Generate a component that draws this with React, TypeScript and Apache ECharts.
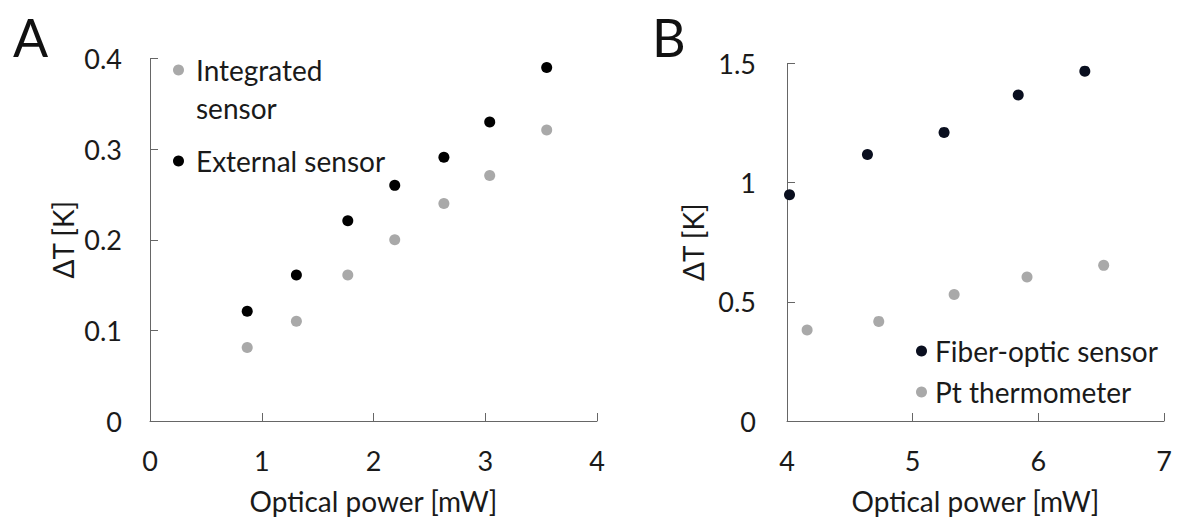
import React, { useEffect, useRef } from "react";
import * as echarts from "echarts";

// Panel A data
const powerA = [0.87, 1.31, 1.77, 2.19, 2.63, 3.04, 3.55];
const integratedSensor = [0.081, 0.11, 0.161, 0.2, 0.24, 0.271, 0.321];
const externalSensor = [0.121, 0.161, 0.221, 0.26, 0.291, 0.33, 0.39];

// Panel B data
const powerBFiber = [4.02, 4.64, 5.25, 5.84, 6.37];
const fiberOptic = [0.949, 1.118, 1.211, 1.368, 1.468];
const powerBPt = [4.16, 4.73, 5.33, 5.91, 6.52];
const ptThermometer = [0.382, 0.418, 0.531, 0.604, 0.653];

const xTicksA = [0, 4, 1];
const yTicksA = [0, 0.4, 0.1];
const xTicksB = [4, 7, 1];
const yTicksB = [0, 1.5, 0.5];

const FONT = "Lato";
const TEXT = "#1a1a1a";
const AXIS = "#666666";
const GRAY = "#a9a9a9";
const BLACK = "#000000";
const NAVY = "#0a0f1f";
const TICK_FS = 27;
const NAME_FS = 28;

const zip = (xs: number[], ys: number[]) => xs.map((x, i) => [x, ys[i]]);

export default function App() {
  const ref = useRef<HTMLDivElement>(null);
  useEffect(() => {
    if (!ref.current) return;
    const chart = echarts.init(ref.current, undefined, { renderer: "svg" });
    const axisCommon = {
      axisLine: { show: true, lineStyle: { color: AXIS, width: 1 } },
      axisTick: { show: true, inside: true, length: 8, lineStyle: { color: AXIS } },
      splitLine: { show: false },
      axisLabel: { color: TEXT, fontFamily: FONT, fontSize: TICK_FS },
      nameTextStyle: { color: TEXT, fontFamily: FONT, fontSize: NAME_FS },
      nameLocation: "middle" as const,
    };
    chart.setOption({
      animation: false,
      backgroundColor: "#ffffff",
      textStyle: { fontFamily: FONT },
      title: [
        { text: "A", left: 8, top: 6, textStyle: { fontFamily: FONT, fontSize: 52, fontWeight: "normal", color: "#111" } },
        { text: "B", left: 647, top: 6, textStyle: { fontFamily: FONT, fontSize: 52, fontWeight: "normal", color: "#111" } },
      ],
      grid: [
        { left: 150, top: 58.5, width: 447, height: 362.5 },
        { left: 787, top: 63.5, width: 377, height: 357.5 },
      ],
      xAxis: [
        {
          ...axisCommon, gridIndex: 0, type: "value", min: xTicksA[0], max: xTicksA[1], interval: xTicksA[2],
          name: "Optical power [mW]", nameGap: 66,
          axisLabel: { ...axisCommon.axisLabel, margin: 26 },
        },
        {
          ...axisCommon, gridIndex: 1, type: "value", min: xTicksB[0], max: xTicksB[1], interval: xTicksB[2],
          name: "Optical power [mW]", nameGap: 66,
          axisLabel: { ...axisCommon.axisLabel, margin: 26 },
        },
      ],
      yAxis: [
        {
          ...axisCommon, gridIndex: 0, type: "value", min: yTicksA[0], max: yTicksA[1], interval: yTicksA[2],
          name: "ΔT [K]", nameGap: 73,
          axisLabel: { ...axisCommon.axisLabel, margin: 28 },
        },
        {
          ...axisCommon, gridIndex: 1, type: "value", min: yTicksB[0], max: yTicksB[1], interval: yTicksB[2],
          name: "ΔT [K]", nameGap: 80,
          axisLabel: { ...axisCommon.axisLabel, margin: 31 },
        },
      ],
      legend: [
        {
          data: ["Fiber-optic sensor", "Pt thermometer"],
          orient: "vertical",
          left: 911,
          top: 332,
          itemWidth: 11,
          itemHeight: 11,
          itemGap: 13,
          icon: "circle",
          textStyle: { color: TEXT, fontFamily: FONT, fontSize: NAME_FS, padding: [0, 0, 0, 3] },
        },
      ],
      graphic: [
        { type: "circle", shape: { cx: 178.5, cy: 70, r: 5.5 }, style: { fill: GRAY } },
        { type: "text", x: 196, y: 70, style: { text: "Integrated", fill: TEXT, font: `${NAME_FS}px ${FONT}`, verticalAlign: "middle" } },
        { type: "text", x: 196, y: 108, style: { text: "sensor", fill: TEXT, font: `${NAME_FS}px ${FONT}`, verticalAlign: "middle" } },
        { type: "circle", shape: { cx: 178.5, cy: 161, r: 5.5 }, style: { fill: BLACK } },
        { type: "text", x: 196, y: 161, style: { text: "External sensor", fill: TEXT, font: `${NAME_FS}px ${FONT}`, verticalAlign: "middle" } },
      ],
      series: [
        { name: "Integrated sensor", type: "scatter", xAxisIndex: 0, yAxisIndex: 0, symbolSize: 11, itemStyle: { color: GRAY, opacity: 1 }, data: zip(powerA, integratedSensor) },
        { name: "External sensor", type: "scatter", xAxisIndex: 0, yAxisIndex: 0, symbolSize: 11, itemStyle: { color: BLACK, opacity: 1 }, data: zip(powerA, externalSensor) },
        { name: "Fiber-optic sensor", type: "scatter", xAxisIndex: 1, yAxisIndex: 1, symbolSize: 11, itemStyle: { color: NAVY, opacity: 1 }, data: zip(powerBFiber, fiberOptic) },
        { name: "Pt thermometer", type: "scatter", xAxisIndex: 1, yAxisIndex: 1, symbolSize: 11, itemStyle: { color: GRAY, opacity: 1 }, data: zip(powerBPt, ptThermometer) },
      ],
    });
    return () => chart.dispose();
  }, []);
  return (
    <div
      ref={ref}
      style={{ position: "absolute", left: 0, top: 0, width: 1183, height: 524, background: "#fff" }}
    />
  );
}
